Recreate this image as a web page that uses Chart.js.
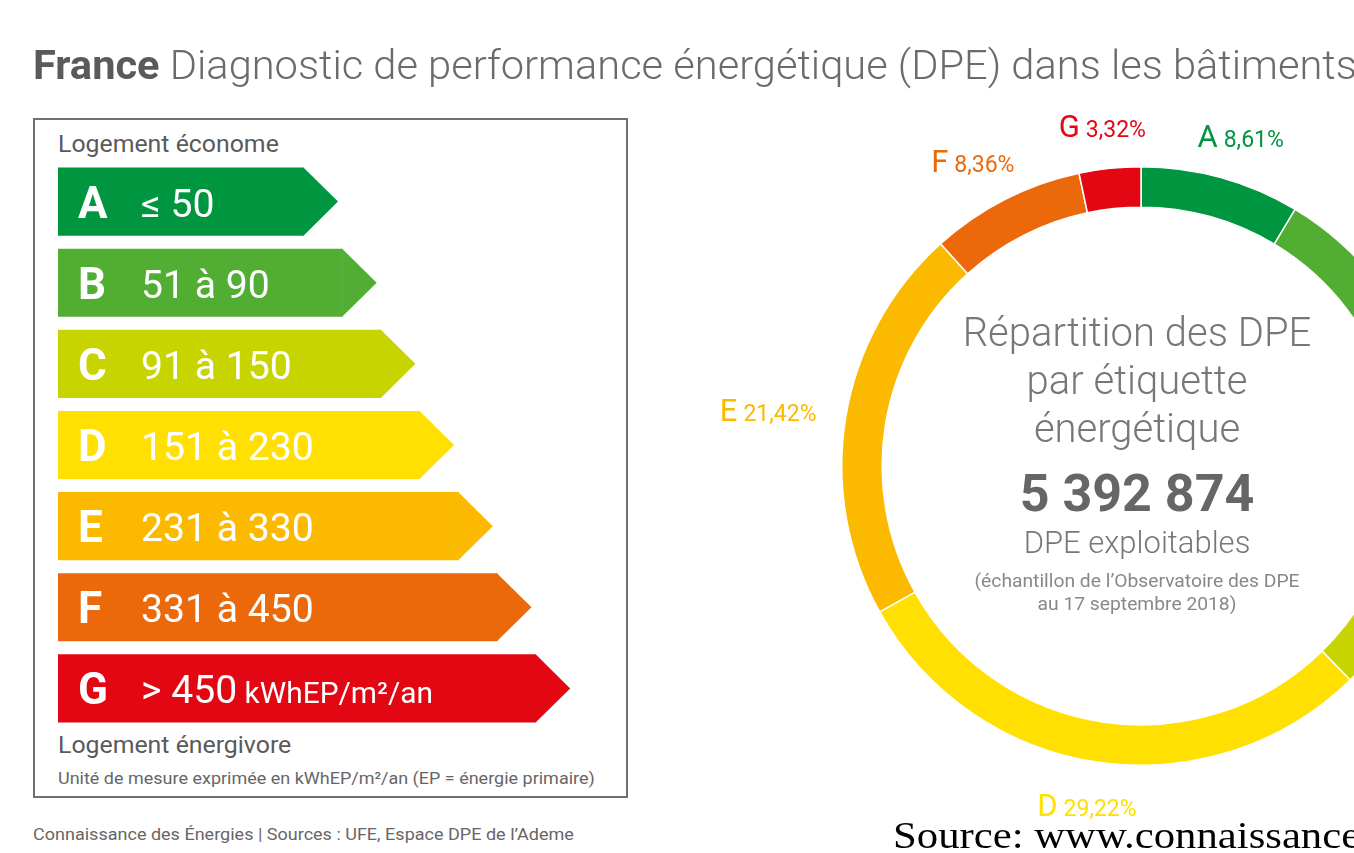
<!DOCTYPE html>
<html lang="fr">
<head>
<meta charset="utf-8">
<script src="https://cdn.jsdelivr.net/npm/chart.js@4.4.1/dist/chart.umd.min.js"></script>
<style>
html,body{margin:0;padding:0;background:#fff;}
body{width:1354px;height:853px;overflow:hidden;position:relative;font-family:Roboto,"Noto Sans",sans-serif;}
.t{position:absolute;white-space:nowrap;line-height:1;transform-origin:0 0;}
#title{left:33px;top:46px;font-size:40px;font-weight:300;color:#6b6b6b;z-index:5;transform:scaleX(1.04);}
#title b{font-weight:700;color:#5a5a5a;}
#box{position:absolute;left:33px;top:118px;width:591px;height:676px;border:2px solid #707070;}
.gray{color:#5a5a5a;}
#barCanvas{position:absolute;left:58px;top:161px;}
#pieWrap{position:absolute;left:691px;top:16px;width:900px;height:900px;}
#pieCanvas{position:absolute;left:0;top:0;}
.center{position:absolute;left:937px;width:400px;text-align:center;white-space:nowrap;line-height:1;color:#777;font-weight:300;}
.lbl{position:absolute;white-space:nowrap;line-height:1;font-weight:400;}
.lbl .k{font-size:31px;}
.lbl .p{font-size:23px;margin-left:6px;}
.barTxt{position:absolute;white-space:nowrap;line-height:1;color:#fff;transform-origin:0 0;}
</style>
</head>
<body>
<div id="title" class="t"><b>France</b> Diagnostic de performance énergétique (DPE) dans les bâtiments</div>
<div id="box"></div>
<div class="t gray" style="left:58px;top:133px;font-size:23px;transform:scaleX(1.08);">Logement économe</div>
<div class="t gray" style="left:58px;top:734px;font-size:23px;transform:scaleX(1.08);">Logement énergivore</div>
<div class="t" style="left:58px;top:771px;font-size:16.5px;color:#666;transform:scaleX(1.09);">Unité de mesure exprimée en kWhEP/m²/an (EP = énergie primaire)</div>
<div class="t" style="left:33px;top:826px;font-size:17px;color:#666;transform:scaleX(1.06);">Connaissance des Énergies | Sources : UFE, Espace DPE de l’Ademe</div>
<div class="t" style="left:893px;top:817px;font-size:37px;color:#000;font-family:'Liberation Serif','Times New Roman',serif;z-index:5;transform:scaleX(1.155);">Source: www.connaissancedesenergies.org</div>

<canvas id="barCanvas" width="540" height="568"></canvas>

<div id="pieWrap"><canvas id="pieCanvas" width="900" height="900"></canvas></div>

<div class="center" style="top:313px;font-size:40px;">Répartition des DPE</div>
<div class="center" style="top:361px;font-size:40px;">par étiquette</div>
<div class="center" style="top:409px;font-size:40px;">énergétique</div>
<div class="center" style="top:468px;font-size:52px;font-weight:700;color:#666;">5 392 874</div>
<div class="center" style="top:527px;font-size:31px;">DPE exploitables</div>
<div class="center" style="top:572px;font-size:18px;color:#888;font-weight:400;transform:scaleX(1.07);">(échantillon de l’Observatoire des DPE</div>
<div class="center" style="top:595px;font-size:18px;color:#888;font-weight:400;transform:scaleX(1.07);">au 17 septembre 2018)</div>

<script>
// ---- data ----
const categories = ['A', 'B', 'C', 'D', 'E', 'F', 'G'];
const shares = [8.61, 12.05, 17.02, 29.22, 21.42, 8.36, 3.32];           // % des DPE
const ranges = ['≤ 50', '51 à 90', '91 à 150', '151 à 230', '231 à 330', '331 à 450', '> 450'];
const classRank = [1, 2, 3, 4, 5, 6, 7];                                 // rang de l'étiquette
const unitLabel = 'kWhEP/m²/an';
const colors = ['#00963F', '#52AE32', '#C8D400', '#FFE000', '#FBBA00', '#EB680B', '#E30613'];

// ---- energy label scale (horizontal bars with arrow tips) ----
const xMin = -5.357, xMax = 8.6;

const arrowPlugin = {
  id: 'arrowTips',
  afterDatasetsDraw(chart) {
    const ctx = chart.ctx;
    const meta = chart.getDatasetMeta(0);
    meta.data.forEach((el, i) => {
      const h = el.height;
      const right = Math.max(el.x, el.base);
      ctx.save();
      ctx.fillStyle = colors[i];
      ctx.beginPath();
      ctx.moveTo(right - 0.5, el.y - h / 2);
      ctx.lineTo(right + h / 2, el.y);
      ctx.lineTo(right - 0.5, el.y + h / 2);
      ctx.closePath();
      ctx.fill();
      ctx.restore();
    });
  },
  afterDraw(chart) {
    if (chart._txtDone) return;
    chart._txtDone = true;
    const cv = chart.canvas;
    const ox = cv.offsetLeft, oy = cv.offsetTop;
    const meta = chart.getDatasetMeta(0);
    meta.data.forEach((el, i) => {
      const left = ox + Math.min(el.base, el.x);
      const cy = oy + el.y;
      const l = document.createElement('div');
      l.className = 'barTxt';
      l.style.left = (left + 20) + 'px';
      l.style.top = (cy - 21) + 'px';
      l.style.fontSize = '44px';
      l.style.fontWeight = '700';
      l.textContent = categories[i];
      document.body.appendChild(l);
      const v = document.createElement('div');
      v.className = 'barTxt';
      v.style.left = (left + 83) + 'px';
      v.style.top = (cy - 17) + 'px';
      v.style.fontSize = '38px';
      v.style.transform = 'scaleX(1.03)';
      v.textContent = ranges[i];
      if (i === categories.length - 1) {
        const u = document.createElement('span');
        u.style.fontSize = '29px';
        u.textContent = ' ' + unitLabel;
        v.appendChild(u);
      }
      document.body.appendChild(v);
    });
  }
};

new Chart(document.getElementById('barCanvas'), {
  type: 'bar',
  data: {
    labels: categories,
    datasets: [{
      data: classRank.map(r => [xMin, r]),
      backgroundColor: colors,
      borderWidth: 0,
      barPercentage: 0.84,
      categoryPercentage: 1
    }]
  },
  options: {
    indexAxis: 'y',
    responsive: false,
    animation: false,
    layout: { padding: 0 },
    plugins: { legend: { display: false }, tooltip: { enabled: false } },
    scales: {
      x: { type: 'linear', min: xMin, max: xMax, display: false },
      y: { display: false }
    }
  },
  plugins: [arrowPlugin]
});

// ---- doughnut ----
const labelPlugin = {
  id: 'outerLabels',
  afterDraw(chart) {
    if (chart._lblDone) return;
    chart._lblDone = true;
    const wrap = document.getElementById('pieWrap');
    const meta = chart.getDatasetMeta(0);
    meta.data.forEach((el, i) => {
      const mid = (el.startAngle + el.endAngle) / 2;
      const dx = Math.cos(mid), dy = Math.sin(mid);
      const d = document.createElement('div');
      d.className = 'lbl';
      d.style.color = colors[i];
      const k = document.createElement('span');
      k.className = 'k';
      k.textContent = categories[i];
      const p = document.createElement('span');
      p.className = 'p';
      p.textContent = shares[i].toFixed(2).replace('.', ',') + '%';
      d.appendChild(k); d.appendChild(p);
      wrap.appendChild(d);
      const w = d.offsetWidth, h = 26;
      const R = el.outerRadius + 30;
      const cx = el.x + dx * R + dx * w / 2;
      const cy = el.y + dy * R + dy * h / 2;
      d.style.left = (cx - w / 2) + 'px';
      d.style.top = (cy - 15) + 'px';
    });
  }
};

new Chart(document.getElementById('pieCanvas'), {
  type: 'doughnut',
  data: {
    labels: categories,
    datasets: [{
      data: shares,
      backgroundColor: colors,
      borderColor: '#ffffff',
      borderWidth: 1.5
    }]
  },
  options: {
    responsive: false,
    animation: false,
    cutout: '86.5%',
    layout: { padding: 150 },
    plugins: { legend: { display: false }, tooltip: { enabled: false } }
  },
  plugins: [labelPlugin]
});
</script>
</body>
</html>
